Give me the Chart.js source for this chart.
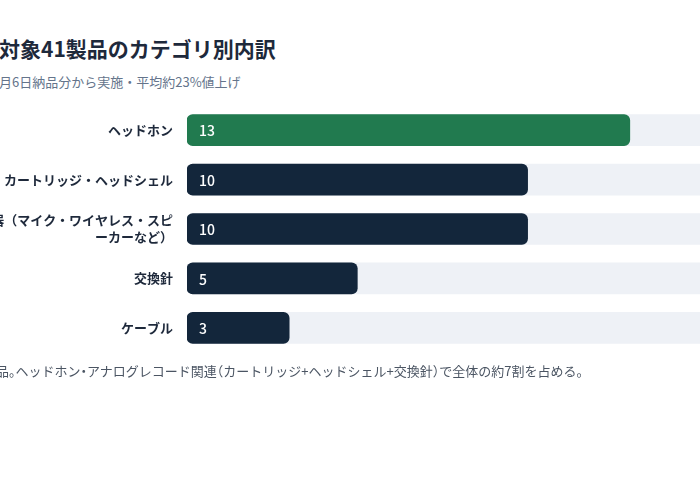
<!DOCTYPE html>
<html lang="ja">
<head>
<meta charset="utf-8">
<script src="https://cdn.jsdelivr.net/npm/chart.js@4.4.1/dist/chart.umd.min.js"></script>
<style>
  html, body { margin: 0; padding: 0; background: #fff; }
  body { width: 700px; height: 485px; overflow: hidden; position: relative; font-family: "Noto Sans CJK JP", "Noto Sans", sans-serif; }
  .title { position: absolute; left: -1px; top: 34px; font-size: 21px; line-height: 28px; font-weight: 700; color: #1e293b; white-space: nowrap; }
  .sub { position: absolute; left: -1px; top: 73px; font-size: 13px; line-height: 18px; color: #64748b; white-space: nowrap; }
  .note { position: absolute; left: -4px; top: 362px; font-size: 13px; line-height: 18px; color: #4b5563; white-space: nowrap; }
  .p { font-feature-settings: "halt"; }
  .chart-box { position: absolute; left: 0; top: 83px; width: 732px; height: 292px; }
</style>
</head>
<body>
<div class="title">対象41製品のカテゴリ別内訳</div>
<div class="sub">月6日納品分から実施・平均約23%値上げ</div>
<div class="chart-box"><canvas id="chart-categories"></canvas></div>
<div class="note">品<span class="p">。</span>ヘッドホン<span class="p">・</span>アナログレコード関連<span class="p">（</span>カートリッジ+ヘッドシェル+交換針<span class="p">）</span>で全体の約7割を占める<span class="p">。</span></div>

<script>
// ── カテゴリ別内訳 ─────────────────────────────
const categories = [
  'ヘッドホン',
  'カートリッジ・ヘッドシェル',
  ['機器（マイク・ワイヤレス・スピ', 'ーカーなど）'],
  '交換針',
  'ケーブル',
];
const counts = [13, 10, 10, 5, 3];
const barColors = ['#217a4f', '#13263b', '#13263b', '#13263b', '#13263b'];
const trackMax = 16;

// 棒の中に件数を描く
const valueLabels = {
  id: 'valueLabels',
  afterDatasetsDraw(chart) {
    const { ctx } = chart;
    const meta = chart.getDatasetMeta(0);
    ctx.save();
    ctx.fillStyle = '#ffffff';
    ctx.font = '500 14px "Noto Sans CJK JP", "Noto Sans", sans-serif';
    ctx.textAlign = 'left';
    ctx.textBaseline = 'middle';
    meta.data.forEach((bar, i) => {
      ctx.fillText(String(counts[i]), bar.base + 12, bar.y + 1);
    });
    ctx.restore();
  },
};

new Chart(document.getElementById('chart-categories'), {
  type: 'bar',
  data: {
    labels: categories,
    datasets: [
      { data: counts, backgroundColor: barColors, borderRadius: 6, borderSkipped: false, barThickness: 31, grouped: false, order: 0 },
      { data: categories.map(() => trackMax), backgroundColor: '#eef1f6', borderRadius: 6, borderSkipped: false, barThickness: 31, grouped: false, order: 1 },
    ],
  },
  options: {
    indexAxis: 'y',
    responsive: true, maintainAspectRatio: false, animation: false,
    layout: { padding: 0 },
    plugins: { legend: { display: false }, tooltip: { enabled: false } },
    scales: {
      x: { display: false, min: 0, max: trackMax },
      y: {
        grid: { display: false, drawTicks: false }, border: { display: false },
        ticks: { color: '#1e293b', padding: 14, font: { family: '"Noto Sans CJK JP", "Noto Sans", sans-serif', size: 13, weight: 'bold', lineHeight: 1.3 } },
        afterFit: scale => { scale.width = 187; },
      },
    },
  },
  plugins: [valueLabels],
});
</script>
</body>
</html>
